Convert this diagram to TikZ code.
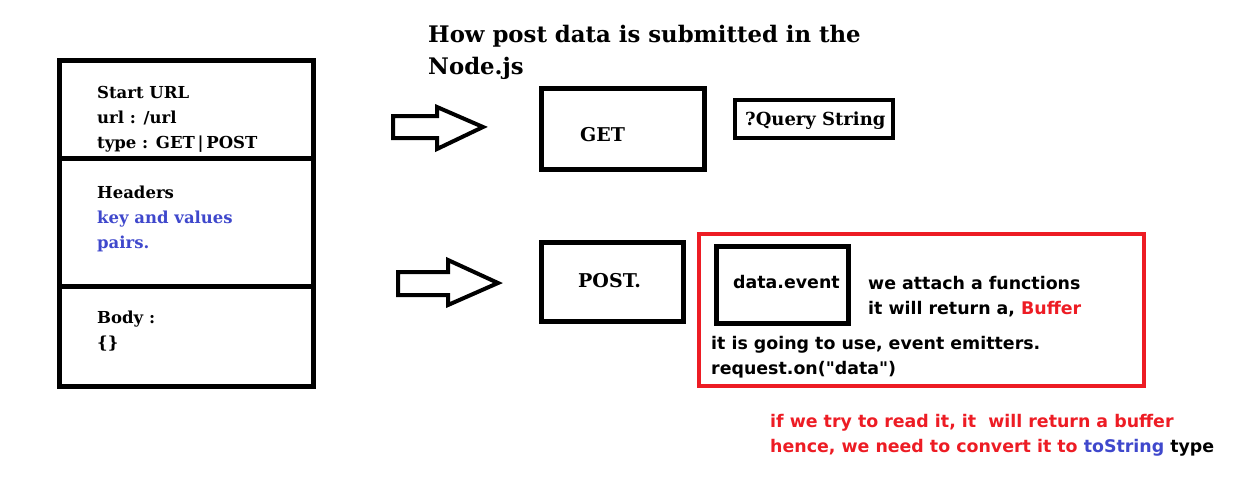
\documentclass[tikz,border=0pt]{standalone}
\usepackage{fontspec}
\setmainfont{DejaVu Serif}
\setsansfont{DejaVu Sans}[Ligatures=TeXOff]
\usetikzlibrary{positioning}
\definecolor{paintred}{RGB}{237,28,36}
\definecolor{paintblue}{RGB}{63,72,204}

\begin{document}
\begin{tikzpicture}[
  x=1pt,
  y=-1pt,
  box/.style={draw, line width=5pt},
  thinbox/.style={draw, line width=4pt},
  redbox/.style={draw=paintred, line width=4pt},
  hollow/.style={draw, line width=4pt, line join=miter},
  slab/.style={font=\fontsize{16.5}{25}\selectfont\bfseries, anchor=base west, inner sep=0pt, align=left},
  plain/.style={font=\sffamily\fontsize{17.4}{24.5}\selectfont\bfseries, anchor=base west, inner sep=0pt, align=left}
  ]
    \useasboundingbox (0,0) rectangle (1246,496);

    % Title
    \node[slab, font=\fontsize{22.8}{32}\selectfont\bfseries] (title) at (428,74) {How post data is submitted in the\\Node.js};

%request
\draw[box] (59,60) rectangle (313,386);
\draw[box] (59,158) -- (316,158);
\draw[box] (59,286) -- (316,286);

\node[slab] (start) at (97,148) {Start URL\\url : /url\\type : GET{\,}|{\,}POST};
\node[slab] (headers) at (97,248) {Headers\\\textcolor{paintblue}{key and values}\\\textcolor{paintblue}{pairs.}};
\node[slab] (body) at (97,348) {Body :\\\{\}};

% arrows
\draw[hollow] (393,116) -- (437,116) -- (437,107) -- (483,127) -- (437,149) -- (437,138) -- (393,138) -- cycle;
\draw[hollow] (398,272) -- (448,272) -- (448,260) -- (498,283) -- (448,305) -- (448,295) -- (398,295) -- cycle;

% GET
\draw[box] (541,88) rectangle (704,169);
\node[slab, font=\fontsize{19}{25}\selectfont\bfseries] (get) at (580,141) {GET};
\draw[thinbox] (735,100) rectangle (893,138);
\node[slab, font=\fontsize{18}{25}\selectfont\bfseries] (query) at (745,125) {?Query String};

% POST
\draw[box] (541,242) rectangle (683,321);
\node[slab, font=\fontsize{19}{25}\selectfont\bfseries] (post) at (578,287) {POST.};

\draw[redbox] (699,234) rectangle (1144,386);
\draw[box] (716,246) rectangle (848,323);
\node[plain] (event) at (733,288) {data.event};
\node[plain] (attach) at (868,314) {we attach a functions\\it will return a, \textcolor{paintred}{Buffer}};
\node[plain] (emit) at (711,374) {it is going to use, event emitters.\\request.on("data")};

%note
\node[plain, text=paintred] (note) at (770,452) {if we try to read it, it\ \ will return a buffer\\hence, we need to convert it to \textcolor{paintblue}{toString} \textcolor{black}{type}};

\end{tikzpicture}
\end{document}
